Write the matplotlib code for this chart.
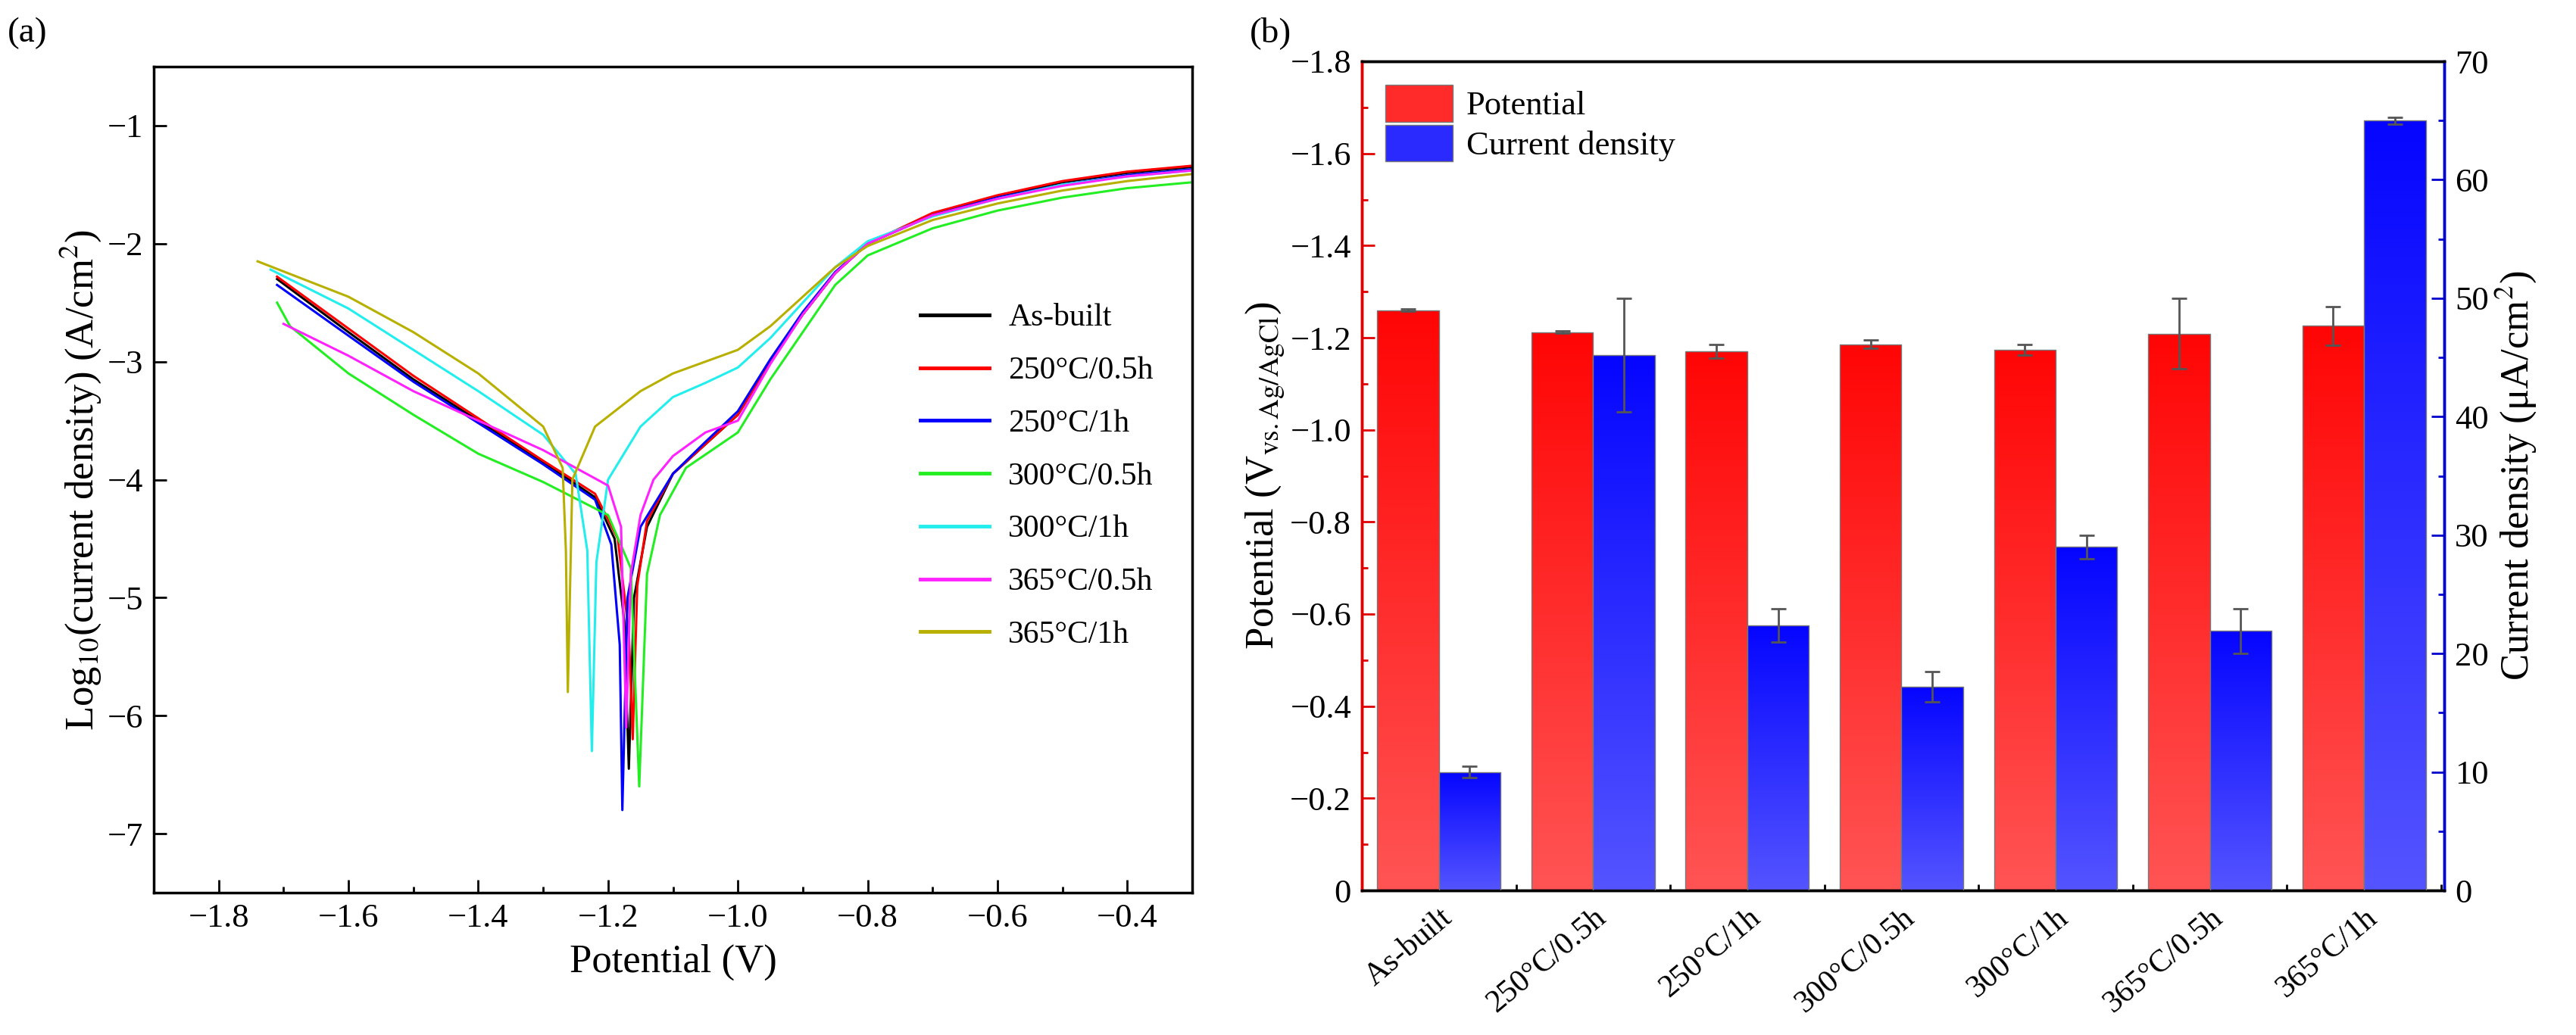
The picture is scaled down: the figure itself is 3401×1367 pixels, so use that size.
import matplotlib
matplotlib.use("Agg")
import matplotlib.pyplot as plt
import numpy as np
from matplotlib.patches import Patch

plt.rcParams['font.family'] = ['Liberation Serif', 'DejaVu Serif']
plt.rcParams['mathtext.fontset'] = 'stix'

# ---------- panel (a) data ----------
labels = ['As-built', '250°C/0.5h', '250°C/1h', '300°C/0.5h', '300°C/1h', '365°C/0.5h', '365°C/1h']
colors = ['black', '#ff0000', '#0000ff', '#22ee22', '#22eeee', '#ff22ff', '#b8b000']

anodic_common_E = [-1.0, -0.95, -0.9, -0.85, -0.8, -0.7, -0.6, -0.5, -0.4, -0.3]
curve_E = [
    [-1.71, -1.6, -1.5, -1.4, -1.3, -1.22, -1.19, -1.175, -1.168, -1.16, -1.14, -1.1, -1.05],
    [-1.71, -1.6, -1.5, -1.4, -1.3, -1.22, -1.185, -1.168, -1.162, -1.155, -1.14, -1.1, -1.05],
    [-1.71, -1.6, -1.5, -1.4, -1.3, -1.22, -1.195, -1.182, -1.178, -1.17, -1.15, -1.1, -1.05],
    [-1.71, -1.69, -1.6, -1.5, -1.4, -1.3, -1.2, -1.165, -1.152, -1.14, -1.12, -1.08, -1.04],
    [-1.72, -1.6, -1.5, -1.4, -1.3, -1.25, -1.232, -1.225, -1.218, -1.2, -1.15, -1.1, -1.05],
    [-1.70, -1.6, -1.5, -1.4, -1.3, -1.2, -1.18, -1.172, -1.165, -1.15, -1.13, -1.1, -1.05],
    [-1.74, -1.6, -1.5, -1.4, -1.3, -1.27, -1.265, -1.262, -1.255, -1.22, -1.15, -1.1, -1.05],
]
curve_L = [
    [-2.3, -2.75, -3.15, -3.5, -3.85, -4.15, -4.5, -5.2, -6.45, -5.0, -4.4, -3.95, -3.7],
    [-2.28, -2.72, -3.12, -3.48, -3.84, -4.12, -4.5, -5.3, -6.2, -4.9, -4.35, -3.95, -3.7],
    [-2.35, -2.78, -3.17, -3.52, -3.87, -4.17, -4.55, -5.4, -6.8, -5.0, -4.4, -3.95, -3.68],
    [-2.5, -2.7, -3.1, -3.45, -3.78, -4.02, -4.3, -4.75, -6.6, -4.8, -4.3, -3.9, -3.75],
    [-2.22, -2.55, -2.9, -3.25, -3.62, -3.95, -4.6, -6.3, -4.7, -4.0, -3.55, -3.3, -3.18],
    [-2.68, -2.95, -3.25, -3.5, -3.75, -4.05, -4.4, -6.1, -4.8, -4.3, -4.0, -3.8, -3.6],
    [-2.15, -2.45, -2.75, -3.1, -3.55, -3.9, -4.6, -5.8, -4.0, -3.55, -3.25, -3.1, -3.0],
]
curve_anodic_L = [
    [-3.45, -3.0, -2.6, -2.25, -2.0, -1.75, -1.6, -1.48, -1.4, -1.35],
    [-3.45, -3.0, -2.6, -2.25, -2.0, -1.74, -1.59, -1.47, -1.39, -1.34],
    [-3.42, -2.98, -2.58, -2.24, -2.0, -1.76, -1.61, -1.5, -1.42, -1.37],
    [-3.6, -3.15, -2.75, -2.35, -2.1, -1.87, -1.72, -1.61, -1.53, -1.48],
    [-3.05, -2.8, -2.5, -2.2, -1.98, -1.77, -1.62, -1.5, -1.43, -1.38],
    [-3.5, -3.02, -2.6, -2.25, -2.0, -1.76, -1.62, -1.51, -1.43, -1.38],
    [-2.9, -2.7, -2.45, -2.2, -2.02, -1.8, -1.66, -1.55, -1.47, -1.41],
]

# ---------- panel (b) data ----------
potential = [-1.26, -1.212, -1.170, -1.186, -1.174, -1.209, -1.226]
potential_err = [0.003, 0.002, 0.015, 0.009, 0.012, 0.077, 0.042]
current = [10.0, 45.2, 22.4, 17.2, 29.0, 21.9, 65.0]
current_err = [0.5, 4.8, 1.4, 1.3, 1.0, 1.9, 0.3]

fig = plt.figure(figsize=(34.01, 13.67), dpi=100)

# ---- panel a ----
ax = fig.add_axes([203/3401, 1 - 1179/1367, (1574-203)/3401, (1179-88)/1367])
for i in range(len(labels)):
    E = curve_E[i] + anodic_common_E
    L = curve_L[i] + curve_anodic_L[i]
    ax.plot(E, L, color=colors[i], lw=2.2, label=labels[i])
ax.set_xlim(-1.9, -0.3)
ax.set_ylim(-7.5, -0.5)
ax.set_xticks(np.arange(-1.8, -0.39, 0.2))
ax.set_xticklabels(['−1.8', '−1.6', '−1.4', '−1.2', '−1.0', '−0.8', '−0.6', '−0.4'])
ax.set_xticks(np.arange(-1.9, -0.29, 0.1), minor=True)
ax.set_yticks(range(-7, 0))
ax.set_yticklabels(['−7', '−6', '−5', '−4', '−3', '−2', '−1'])
ax.tick_params(which='both', direction='in', labelsize=32, width=2)
ax.tick_params(which='major', length=12, pad=10)
ax.tick_params(which='minor', length=6)
ax.tick_params(axis='y', which='minor', left=False)
for s in ax.spines.values():
    s.set_linewidth(2.5)
ax.set_xlabel('Potential (V)', fontsize=38, labelpad=10)
ax.set_ylabel('Log$_{10}$(current density) (A/cm$^2$)', fontsize=38)
ax.legend(loc='lower right', bbox_to_anchor=(0.99, 0.26), frameon=False, fontsize=30,
          handlelength=2.2, labelspacing=0.75, handletextpad=0.6)
for line in ax.get_legend().get_lines():
    line.set_linewidth(3.5)
fig.text(0.003, 0.96, '(a)', fontsize=34)

# ---- panel b ----
bx = fig.add_axes([1798/3401, 1 - 1176/1367, (3227-1798)/3401, (1176-81)/1367])
bx2 = bx.twinx()
x = np.arange(len(labels))
w = 0.4

def grad_bars(axis, xs, heights, top_rgb, bot_rgb, ylo):
    bars = axis.bar(xs, heights, w, color='none', edgecolor='#777777', lw=1, zorder=3)
    grad = np.linspace(0, 1, 256)[:, None]
    cmap = np.zeros((256, 1, 3))
    for c in range(3):
        cmap[:, 0, c] = top_rgb[c] + (bot_rgb[c] - top_rgb[c]) * grad[:, 0]
    for b in bars:
        x0 = b.get_x(); x1 = x0 + b.get_width()
        y0 = b.get_y(); y1 = y0 + b.get_height()
        im = axis.imshow(cmap, extent=(x0, x1, ylo, y1 if abs(y1) > abs(y0) else y0),
                         aspect='auto', origin='upper', zorder=2)
        im.set_clip_path(b)
    return bars

grad_bars(bx, x - w/2, potential, (1, 0.02, 0.02), (1, 0.33, 0.33), 0)
bx.errorbar(x - w/2, potential, yerr=potential_err, fmt='none', ecolor='#555555',
            elinewidth=2, capsize=7, capthick=2, zorder=4)
bx.set_ylim(0, -1.8)
bx.set_xlim(-0.485, 6.52)

grad_bars(bx2, x + w/2, current, (0.02, 0.02, 1), (0.33, 0.33, 1), 0)
bx2.errorbar(x + w/2, current, yerr=current_err, fmt='none', ecolor='#555555',
             elinewidth=2, capsize=7, capthick=2, zorder=4)
bx2.set_ylim(0, 70)
bx2.set_xlim(-0.485, 6.52)

bx.set_yticks(np.arange(0, -1.81, -0.2))
bx.set_yticklabels(['0'] + ['−%.1f' % v for v in np.arange(0.2, 1.81, 0.2)])
bx.set_yticks(np.arange(0, -1.81, -0.1), minor=True)
bx2.set_yticks(range(0, 71, 10))
bx2.set_yticks(range(0, 71, 5), minor=True)
bx.set_xticks(x)
bx.set_xticks(np.arange(-0.5, 6.6, 1.0), minor=True)
bx.set_xticklabels(labels, rotation=40, ha='right', rotation_mode='anchor', fontsize=30)
bx.tick_params(axis='y', which='both', direction='in', colors='#e00000', labelcolor='black', labelsize=32, width=2, pad=10)
bx.tick_params(axis='x', which='both', direction='in', width=2, labelsize=30, pad=12)
bx.tick_params(which='major', length=12)
bx.tick_params(which='minor', length=6)
bx2.tick_params(axis='y', which='both', direction='in', colors='#0000cc', labelcolor='black', labelsize=32, width=2, pad=10)
bx2.tick_params(which='major', length=12)
bx2.tick_params(which='minor', length=6)
for a in (bx, bx2):
    for s in a.spines.values():
        s.set_linewidth(2.5)
bx2.spines['left'].set_color('#e00000')
bx2.spines['right'].set_color('#0000cc')
bx.spines['left'].set_color('#e00000')
bx.spines['right'].set_color('#0000cc')
bx.set_ylabel('Potential (V$_{\\rm vs.Ag/AgCl}$)', fontsize=38)
bx2.set_ylabel('Current density (μA/cm$^2$)', fontsize=38)
bx.legend(handles=[Patch(facecolor='#ff2a2a', edgecolor='#777777'),
                   Patch(facecolor='#2a2aff', edgecolor='#777777')],
          labels=['Potential', 'Current density'], loc='upper left', frameon=False,
          fontsize=32, handlelength=2.0, handleheight=1.3, labelspacing=0.1,
          borderaxespad=0.3, handletextpad=0.4)
fig.text(1650/3401, 0.96, '(b)', fontsize=34)

fig.savefig('out.png', dpi=100)
